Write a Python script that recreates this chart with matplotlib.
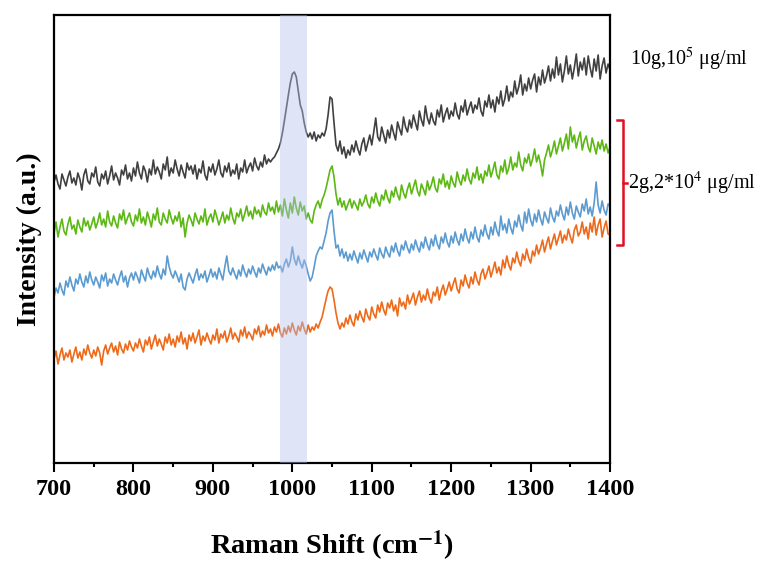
import numpy as np
import matplotlib
matplotlib.use('Agg')
import matplotlib.pyplot as plt
from matplotlib.ticker import MultipleLocator

plt.rcParams['font.family'] = ['Liberation Serif', 'DejaVu Serif']
plt.rcParams['mathtext.fontset'] = 'stix'

# Raman shift axis, 2.5 cm-1 steps (700 ... 1400)
shift = np.linspace(700, 1400, 281)

# stacked spectra (offset already in the values), one row = 25 cm-1
black = [
    281, 288, 279, 274, 289, 283, 277, 286, 292, 280,
    285, 278, 290, 284, 273, 288, 294, 282, 279, 290,
    286, 296, 281, 277, 289, 284, 292, 279, 287, 297,
    283, 290, 285, 278, 293, 288, 298, 284, 290, 282,
    295, 287, 301, 290, 284, 297, 292, 281, 294, 288,
    303, 289, 296, 291, 284, 299, 293, 306, 287, 295,
    290, 303, 294, 287, 298, 291, 285, 300, 293, 297,
    289, 298, 284, 294, 290, 302, 288, 283, 296, 291,
    299, 288, 294, 303, 290, 286, 297, 291, 300, 287,
    293, 289, 299, 284, 295, 291, 303, 290, 296, 300,
    292, 305, 297, 293, 301, 296, 308, 299, 304, 301,
    304, 306, 310, 314, 320, 330, 342, 355, 368, 380,
    389, 391, 386, 372, 358, 352, 340, 331, 326, 330,
    324, 331, 322, 328, 325, 330, 327, 334, 348, 366,
    364, 340, 318, 312, 322, 309, 316, 305, 313, 308,
    318, 311, 322, 314, 308, 319, 325, 312, 320, 328,
    318, 331, 345, 326, 322, 336, 328, 320, 333, 325,
    338, 330, 323, 341, 334, 328, 346, 336, 331, 343,
    335, 348, 340, 333, 352, 343, 337, 357, 345, 339,
    350, 342, 338, 353, 346, 358, 341, 349, 355, 344,
    352, 347, 360, 349, 344, 357, 351, 363, 348, 355,
    361, 350, 358, 354, 365, 352, 347, 362, 356, 368,
    355, 363, 351, 366, 359, 372, 357, 364, 377, 362,
    371, 366, 382, 369, 376, 388, 368, 379, 372, 385,
    374, 383, 389, 371, 386, 378, 393, 380, 387, 397,
    382, 394, 385, 406, 388, 399, 381, 392, 407, 389,
    398, 384, 395, 409, 387, 401, 393, 405, 388, 407,
    395, 386, 404, 392, 408, 384, 397, 405, 390, 399,
    393,
]
green = [
    230, 241, 226, 236, 244, 232, 228, 239, 246, 234,
    238, 229, 243, 236, 231, 245, 237, 242, 233, 239,
    246, 235, 241, 250, 238, 244, 236, 252, 241, 237,
    247, 240, 235, 249, 243, 253, 239, 245, 250, 241,
    237, 248, 242, 254, 240, 246, 238, 251, 244, 236,
    249, 243, 255, 241, 238, 250, 244, 240, 253, 245,
    239, 247, 242, 251, 236, 245, 226, 240, 248, 243,
    237, 250, 244, 239, 247, 241, 254, 238, 245, 249,
    241, 253, 246, 238, 244, 251, 240, 248, 243, 255,
    245, 239, 250, 246, 254, 242, 249, 257, 247, 252,
    244, 256, 249, 253, 246, 258, 251, 248, 260, 252,
    256, 249, 262, 251, 258, 247, 264, 253, 245, 260,
    250, 266, 255, 248, 261, 252, 257, 244, 250, 243,
    240, 252, 258, 262, 255, 263, 268, 275, 284, 293,
    297, 286, 269, 258, 265, 256, 262, 253, 259, 264,
    255, 262, 258, 253, 264, 257, 261, 268, 259, 255,
    266, 260, 270, 262, 257, 268, 263, 273, 265, 260,
    272, 266, 276, 268, 263, 278, 270, 265, 274, 280,
    269, 276, 283, 272, 267, 279, 274, 268, 282, 273,
    278, 286, 275, 271, 284, 279, 289, 276, 282, 274,
    287, 280, 276, 291, 283, 278, 288, 282, 294, 284,
    279, 290, 285, 296, 283, 289, 280, 292, 287, 298,
    286, 293, 301, 288, 284, 297, 291, 303, 289, 295,
    306, 293, 300, 296, 311, 298, 292, 305, 300, 309,
    297, 304, 314, 301, 308, 299, 287, 303, 310, 318,
    306, 313, 322, 309, 317, 325, 312, 320, 329, 314,
    336, 321, 328, 315, 324, 331, 313, 322, 327, 316,
    311, 325, 317, 309, 321, 314, 323, 312, 319, 310,
    316,
]
blue = [
    166, 175, 170, 180, 173, 168, 182, 176, 186, 178,
    172, 184, 179, 189, 181, 176, 187, 180, 191, 183,
    178, 186, 181, 175, 188, 182, 190, 177, 184, 180,
    189, 183, 178, 186, 192, 181, 187, 176, 185, 190,
    183, 191, 186, 180, 193, 187, 182, 195, 188, 184,
    192, 186, 197, 189, 184, 194, 188, 207, 196, 189,
    185, 192, 187, 181, 189, 176, 173, 184, 190, 185,
    180, 188, 194, 183, 189, 185, 192, 181, 187, 194,
    186, 191, 184, 195, 189, 183, 196, 207, 192, 188,
    195, 189, 184, 193, 187, 198, 191, 186, 194, 189,
    197, 191, 186, 195, 190, 199, 193, 188, 196, 192,
    198, 193, 201, 195, 197, 191, 199, 204, 196, 202,
    216, 204, 198, 207, 200, 195, 203, 197, 189, 182,
    186, 196, 207, 212, 216, 214, 222, 230, 242, 250,
    253, 232, 215, 218, 207, 214, 205, 211, 202, 209,
    203, 212, 206, 200, 210, 204, 213, 207, 201, 211,
    206, 214, 208, 203, 215, 209, 205, 216, 210, 206,
    217, 211, 220, 212, 207, 218, 213, 222, 215, 210,
    219, 213, 223, 216, 211, 221, 215, 226, 218, 213,
    224, 217, 228, 219, 214, 226, 220, 230, 221, 216,
    227, 220, 231, 223, 218, 229, 222, 234, 225, 220,
    231, 224, 236, 226, 221, 233, 227, 238, 229, 224,
    236, 228, 241, 232, 227, 247, 233, 239, 230, 244,
    235, 229, 242, 236, 248, 238, 232, 251, 240, 254,
    243, 237, 249, 241, 253, 244, 238, 251, 245, 240,
    255, 246, 241, 252, 247, 258, 249, 243, 256, 248,
    261, 250, 244, 257, 251, 246, 259, 252, 264, 249,
    256, 247, 260, 281, 258, 250, 262, 253, 248, 259,
    257,
]
orange = [
    104, 112, 99, 108, 115, 103, 110, 106, 113, 101,
    109, 116, 105, 111, 103, 114, 108, 118, 110, 105,
    113, 107, 116, 110, 98, 112, 118, 109, 115, 120,
    111, 117, 108, 121, 114, 110, 119, 113, 122, 116,
    112, 120, 115, 124, 117, 111, 123, 118, 126, 114,
    121, 128, 117, 124, 119, 113, 126, 120, 129, 118,
    124, 116, 127, 121, 131, 119, 125, 114, 128, 122,
    130, 120, 126, 133, 118, 127, 122, 130, 124, 119,
    128, 123, 134, 120, 129, 125, 132, 121, 127, 135,
    124, 130, 126, 121, 133, 127, 136, 125, 131, 128,
    123, 134, 129, 137, 126, 132, 128, 138, 130, 134,
    127, 136, 131, 139, 130, 126, 135, 129, 137, 131,
    140, 133, 128, 137, 132, 141, 134, 129, 138, 131,
    136, 133, 139, 135, 141, 146, 155, 164, 172, 176,
    174, 163, 150, 140, 134, 140, 136, 145, 139, 148,
    141, 137, 149, 143, 152, 146, 141, 154, 147, 143,
    156, 149, 145, 158, 151, 161, 153, 148, 160, 155,
    163, 152, 158, 147, 165, 157, 161, 154, 168, 159,
    164, 170, 158, 166, 172, 161, 168, 163, 174, 165,
    160, 171, 167, 176, 163, 172, 178, 168, 174, 181,
    172, 179, 185, 174, 170, 183, 177, 188, 180, 175,
    186, 179, 191, 183, 178, 189, 194, 184, 190, 197,
    186, 193, 201, 190, 196, 188, 203, 195, 207, 198,
    193, 205, 200, 211, 202, 197, 209, 203, 214, 205,
    200, 212, 207, 218, 209, 215, 223, 211, 219, 226,
    214, 222, 229, 218, 225, 232, 220, 228, 223, 234,
    226, 220, 233, 238, 227, 231, 241, 229, 236, 224,
    240, 231, 246, 228, 238, 244, 226, 235, 242, 229,
    228,
]
line_colors = ['#404040', '#5cb814', '#5b9bd0', '#ee6a1a']
label_top = '10g,10$^5$ μg/ml'
label_low = '2g,2*10$^4$ μg/ml'

fig = plt.figure(figsize=(7.62, 5.63), dpi=100)
ax = fig.add_axes([0.0709, 0.1776, 0.7297, 0.7958])

for ys, c in zip([black, green, blue, orange], line_colors):
    ax.plot(shift, ys, color=c, lw=1.2, zorder=2)

# highlighted band at ~1000 cm-1
ax.axvspan(984, 1018, color='#b4c0ea', alpha=0.42, lw=0, zorder=3)

ax.set_xlim(700, 1400)
ax.set_ylim(0, 448)
ax.xaxis.set_major_locator(MultipleLocator(100))
ax.xaxis.set_minor_locator(MultipleLocator(50))
ax.tick_params(axis='x', which='major', direction='out', length=6.5, width=1.5, pad=5)
ax.tick_params(axis='x', which='minor', direction='out', length=3, width=1.5)
ax.set_yticks([])
for lbl in ax.get_xticklabels():
    lbl.set_fontsize(17.5)
    lbl.set_fontweight('bold')
for sp in ax.spines.values():
    sp.set_linewidth(1.6)

ax.set_xlabel('Raman Shift (cm$^{\\mathbf{-1}}$)', fontsize=20.5, fontweight='bold', labelpad=21)
ax.set_ylabel('Intensity (a.u.)', fontsize=20, fontweight='bold', labelpad=9)

# labels and red bracket on the right
ax.text(1.036, 0.90, label_top, transform=ax.transAxes, fontsize=14.5,
        va='center', ha='left')
bx = [1.0126, 1.0234, 1.0234, 1.0126]
by = [0.7656, 0.7656, 0.4866, 0.4866]
ax.plot(bx, by, color='#e01020', lw=1.8, transform=ax.transAxes, clip_on=False)
ax.plot([1.0234, 1.0306], [0.625, 0.625], color='#e01020', lw=1.8,
        transform=ax.transAxes, clip_on=False)
ax.text(1.032, 0.625, label_low, transform=ax.transAxes, fontsize=14.5,
        va='center', ha='left')

fig.savefig('out.png', dpi=100)
